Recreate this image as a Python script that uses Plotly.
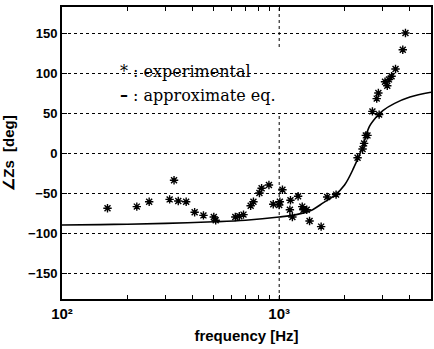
import math
import plotly.graph_objects as go

exp_freq = [162, 221, 252, 313, 328, 343, 373, 408, 448, 500, 510, 628, 655, 685, 739,
            761, 811, 830, 897, 939, 1000, 1007, 1035, 1120, 1127, 1150, 1222, 1277,
            1294, 1339, 1380, 1560, 1663, 1828, 2295, 2420, 2460, 2505, 2550, 2687,
            2812, 2862, 2885, 3071, 3145, 3202, 3292, 3433, 3707, 3814]
exp_phase = [-69, -67, -61, -58, -34, -60, -61, -74, -78, -80, -84, -80, -79, -77, -66,
             -61, -50, -44, -40, -64, -65, -61, -46, -71, -59, -80, -54, -67,
             -71, -71, -85, -92, -55, -52, -6, 5, 12, 22, 22, 52,
             68, 75, 48, 89, 84, 92, 96, 105, 129, 150]

# approximate equation curve
curve_freq = [100, 150, 200, 300, 500, 700, 1000, 1200, 1400, 1600, 1800, 2000, 2200,
              2400, 2500, 2600, 2800, 3000, 3400, 4000, 5000]
curve_phase = [-90, -89.5, -89, -88, -86, -84, -80, -77, -72, -62, -53, -40, -19,
               5, 20, 33, 45, 53, 62, 70, 76]

x_min, x_max = 100, 5000
x_tickvals = [100, 200, 300, 400, 500, 600, 700, 800, 900,
              1000, 2000, 3000, 4000, 5000]
x_ticktext = ["10²", "", "", "", "", "", "", "", "",
              "10³", "", "", "", ""]
x_grid = [1000]
y_ticks = [-150, -100, -50, 0, 50, 100, 150]

fig = go.Figure()
fig.add_trace(go.Scatter(x=curve_freq, y=curve_phase, mode="lines",
                         line=dict(color="black", width=1.6, shape="spline"),
                         showlegend=False, hoverinfo="skip"))
fig.add_trace(go.Scatter(x=exp_freq, y=exp_phase, mode="markers",
                         marker=dict(symbol="asterisk-open", size=7, color="black",
                                     line=dict(color="black", width=1.4)),
                         showlegend=False, hoverinfo="skip"))

tickfont = dict(family="Liberation Sans, Arial", size=13, color="black", weight="bold")
xtickfont = dict(family="Liberation Sans, Arial", size=15, color="black", weight="bold")

fig.update_xaxes(type="log", range=[math.log10(x_min), math.log10(x_max)],
                 tickmode="array", tickvals=x_tickvals, ticktext=x_ticktext,
                 showline=True, linecolor="black", linewidth=2, mirror="allticks",
                 ticks="inside", ticklen=4, tickcolor="black", tickwidth=1,
                 showgrid=False, zeroline=False, tickfont=xtickfont,
                 title=dict(text="frequency [Hz]", standoff=9,
                            font=dict(family="Liberation Sans, Arial", size=15,
                                      color="black", weight="bold")))
fig.update_yaxes(range=[-182.5, 182.5], tickvals=y_ticks,
                 showline=True, linecolor="black", linewidth=2, mirror="allticks",
                 ticks="inside", ticklen=5, tickcolor="black",
                 showgrid=True, gridcolor="black", gridwidth=1, griddash="dot",
                 zeroline=False, tickfont=tickfont,
                 title=dict(text="∠Zs  [deg]", standoff=10,
                            font=dict(family="Liberation Sans, Arial", size=15,
                                      color="black", weight="bold")))

# vertical decade grid line(s)
for g in x_grid:
    px = math.log10(g / x_min) / math.log10(x_max / x_min)
    fig.add_shape(type="line", xref="paper", yref="paper", x0=px, x1=px, y0=0, y1=1,
                  line=dict(color="black", width=1, dash="dot"), layer="below")

# white box behind the text, hiding the grid lines
fig.add_shape(type="rect", xref="paper", yref="paper", x0=0.135, x1=0.612,
              y0=0.627, y1=0.856, fillcolor="white", line=dict(width=0),
              layer="between")

textfont = dict(family="DejaVu Serif", size=16, color="black")
fig.add_annotation(xref="paper", yref="paper", x=0.153, y=0.778, xanchor="left",
                   yanchor="middle", text="* : experimental", showarrow=False,
                   font=textfont)
fig.add_annotation(xref="paper", yref="paper", x=0.153, y=0.697, xanchor="left",
                   yanchor="middle", text="<b>–</b> : approximate eq.", showarrow=False,
                   font=textfont)

fig.update_layout(width=434, height=349, margin=dict(l=62, r=1, t=7, b=50),
                  plot_bgcolor="white", paper_bgcolor="white")

fig.write_html("out.html", config={"displayModeBar": False},
               post_script="document.body.style.margin='0';document.body.style.overflow='hidden';")
